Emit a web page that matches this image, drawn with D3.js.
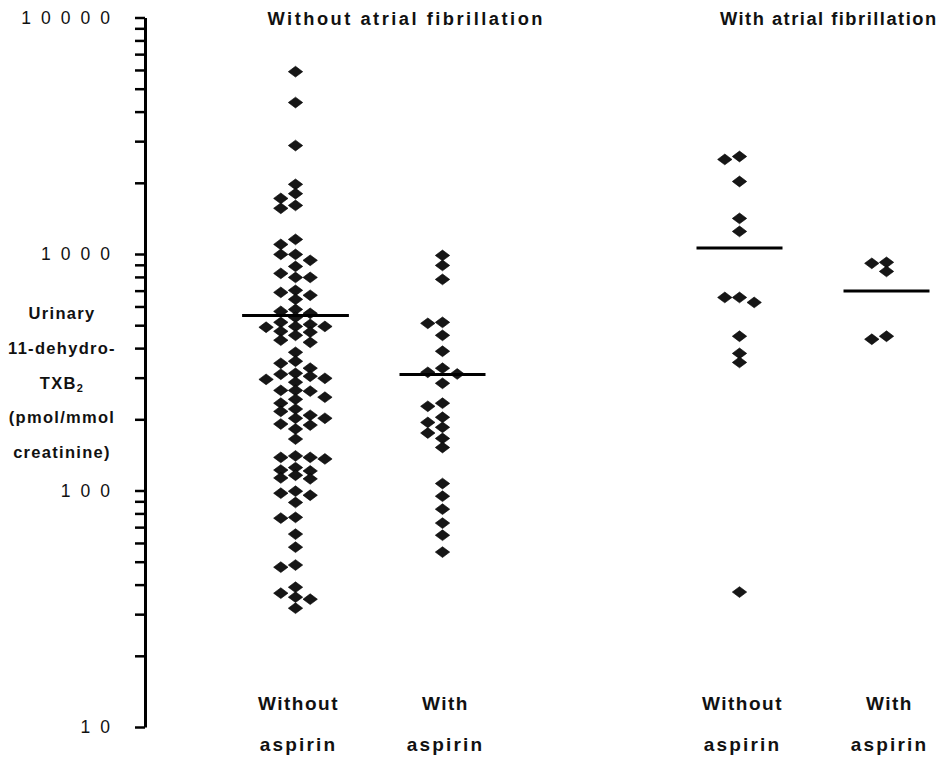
<!DOCTYPE html>
<html><head><meta charset="utf-8">
<script src="https://cdn.jsdelivr.net/npm/d3@7"></script>
<style>body{margin:0;background:#fff}</style>
</head><body>
<svg id="chart" width="943" height="758"></svg>
<script>
// ---- data ----
const afGroups = ["Without atrial fibrillation", "With atrial fibrillation"];
const aspirinGroups = ["Without aspirin", "With aspirin"];
const aspirinLabelLines = [["Without", "aspirin"], ["With", "aspirin"]];
const yAxisTitleLines = ["Urinary", "11-dehydro-", "TXB|2", "(pmol/mmol", "creatinine)"];
const yTickLabels = [10, 100, 1000, 10000];

const noAfNoAspirin = [5900, 4370, 2875, 1970, 1800, 1560, 940, 828, 702, 643, 583, 504, 453, 423, 384, 329, 298, 265, 243, 208, 182, 165, 138, 125, 116, 95.5, 89, 77, 65.4, 57.6, 34.7,
  1605, 1098, 996, 886, 796, 669, 572, 490, 432, 345, 313, 295, 265, 234, 216, 189, 136, 121, 113, 97.4, 76.4, 47.4, 36.8, 31.8,
  1718, 1153, 996, 796, 688, 561, 494, 467, 352, 304, 287, 263, 248, 221, 191, 138, 122, 112, 99.3, 48.4, 39.0, 35.4,
  494, 202, 140,
  540, 514, 471, 310, 202];
const noAfAspirin = [986, 895, 781, 514, 509, 453, 388, 329, 316, 311, 284, 234, 227, 204, 194, 185, 175, 166, 152, 107, 94.6, 83.4, 72.8, 64.7, 54.9];
const afNoAspirin = [2584, 2511, 2026, 1414, 1246, 655, 655, 624, 449, 380, 348, 37.2];
const afAspirin = [922, 913, 844, 449, 436];
const groupMeans = [550, 309, 1059, 697];

const groups = [
  {af: afGroups[0], asp: aspirinGroups[0], values: noAfNoAspirin, mean: groupMeans[0], lab: aspirinLabelLines[0]},
  {af: afGroups[0], asp: aspirinGroups[1], values: noAfAspirin, mean: groupMeans[1], lab: aspirinLabelLines[1]},
  {af: afGroups[1], asp: aspirinGroups[0], values: afNoAspirin, mean: groupMeans[2], lab: aspirinLabelLines[0]},
  {af: afGroups[1], asp: aspirinGroups[1], values: afAspirin, mean: groupMeans[3], lab: aspirinLabelLines[1]}
];

// ---- layout ----
const svg = d3.select("#chart");
const FONT = "'Liberation Sans', Arial, Helvetica, sans-serif";
const y = d3.scaleLog().domain([10, 10000]).range([727, 17.5]);
const xOuter = d3.scalePoint().domain(afGroups).range([369, 813]);
const xInner = d3.scalePoint().domain(aspirinGroups).range([-73.5, 73.5]);
const xc = g => xOuter(g.af) + xInner(g.asp);

// axis
const tickVals = [];
for (let d = 10; d < 10000; d *= 10) for (let k = 1; k < 10; k++) tickVals.push(d * k);
tickVals.push(10000);
const axisG = svg.append("g").attr("transform", "translate(145,0)")
  .call(d3.axisLeft(y).tickValues(tickVals).tickSize(10).tickSizeOuter(0).tickFormat(""));
axisG.select(".domain").attr("stroke", "#000").attr("stroke-width", 3);
axisG.selectAll(".tick line").attr("stroke", "#000").attr("stroke-width", 2.5);

const LS = 10;
svg.append("g").selectAll("text").data(yTickLabels).join("text")
  .attr("x", 110 + LS).attr("y", d => y(d)).attr("dy", "0.36em")
  .attr("text-anchor", "end").attr("font-family", FONT).attr("font-size", 17.5)
  .attr("letter-spacing", LS).attr("fill", "#111").text(d => d);

// y title
const yt = svg.append("g").attr("font-family", FONT).attr("font-weight", "bold")
  .attr("font-size", 16.5).attr("letter-spacing", 1.3).attr("fill", "#111");
yAxisTitleLines.forEach((line, i) => {
  const t = yt.append("text").attr("x", 62).attr("y", 313 + i * 34.8).attr("dy", "0.36em").attr("text-anchor", "middle");
  const parts = line.split("|");
  t.append("tspan").text(parts[0]);
  if (parts[1]) t.append("tspan").attr("font-size", 11).attr("dy", "0.35em").text(parts[1]);
});

// headers
const headerX = {[afGroups[0]]: 405, [afGroups[1]]: 828};
const headerLS = {[afGroups[0]]: 2.5, [afGroups[1]]: 1.5};
svg.append("g").selectAll("text").data(afGroups).join("text")
  .attr("x", d => headerX[d] + headerLS[d] / 2).attr("y", 18).attr("dy", "0.36em").attr("text-anchor", "middle")
  .attr("font-family", FONT).attr("font-weight", "bold").attr("font-size", 18.3).attr("letter-spacing", d => headerLS[d])
  .attr("fill", "#111").text(d => d);

// swarm
const STEP = 14.7, MIN_DY = 7.5;
function swarm(values, cx) {
  const slots = [0, -1, 1, 2, -2, 3, -3, 4, -4];
  const pts = values.map(v => ({v, py: y(v)})).sort((a, b) => a.py - b.py);
  const placed = [];
  pts.forEach(p => {
    for (const s of slots) {
      if (!placed.some(q => q.s === s && Math.abs(q.py - p.py) < MIN_DY)) { p.s = s; break; }
    }
    placed.push(p);
  });
  placed.forEach(p => p.px = cx + p.s * STEP);
  return placed;
}
const diamond = "M-7.2,0L0,-5.4L7.2,0L0,5.4Z";

groups.forEach(g => {
  const cx = xc(g);
  const pts = swarm(g.values, cx);
  const gg = svg.append("g");
  gg.selectAll("path").data(pts).join("path")
    .attr("d", diamond).attr("transform", d => `translate(${d.px},${d.py})`)
    .attr("fill", "#161616").attr("stroke", "#000").attr("stroke-width", 0.6);
  const ext = Math.min(2, d3.max(pts, p => Math.abs(p.s))) * STEP;
  const hw = Math.max(43, ext + 24);
  gg.append("line").attr("x1", cx - hw).attr("x2", cx + hw)
    .attr("y1", y(g.mean)).attr("y2", y(g.mean)).attr("stroke", "#000").attr("stroke-width", 3);
  // bottom label
  g.lab.forEach((l, i) => {
    svg.append("text").attr("x", cx + 3).attr("y", 703 + i * 41).attr("dy", "0.36em")
      .attr("text-anchor", "middle").attr("font-family", FONT).attr("font-weight", "bold")
      .attr("font-size", 19).attr("letter-spacing", i === 1 ? 2.2 : 1.5).attr("fill", "#111").text(l);
  });
});
</script>
</body></html>
